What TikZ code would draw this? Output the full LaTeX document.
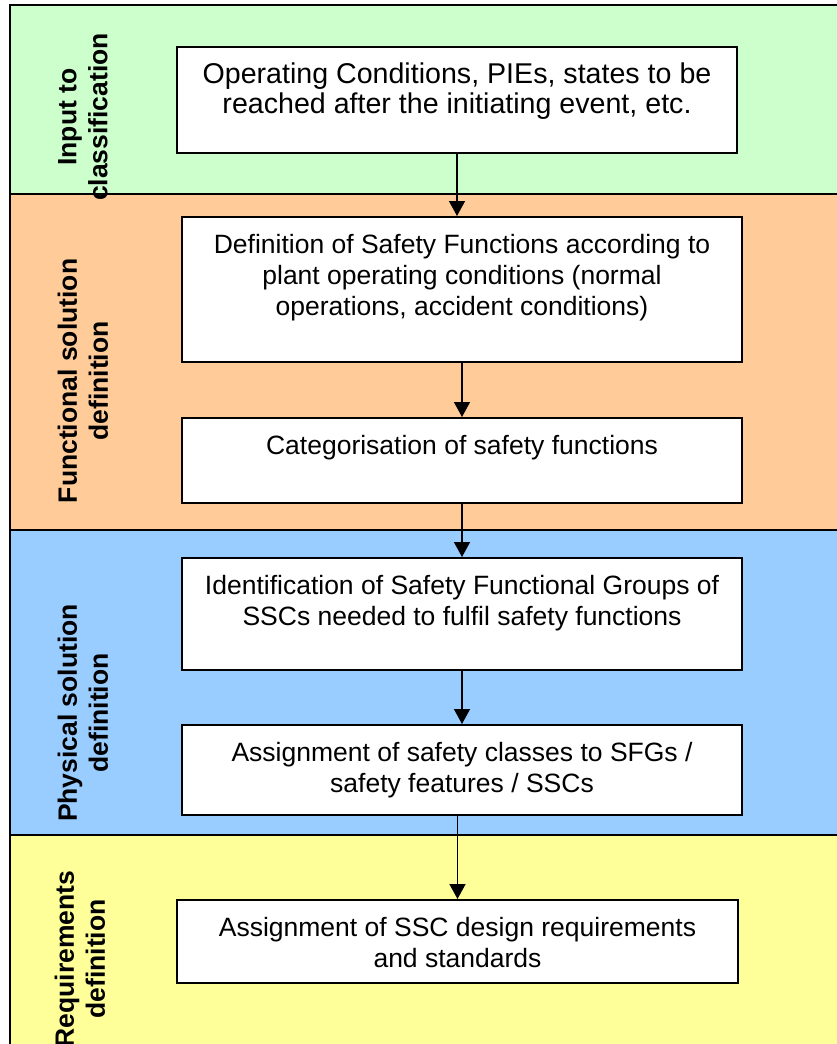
\documentclass[tikz,border=0pt]{standalone}
\usepackage{fontspec}
\setmainfont{Liberation Sans}
\usetikzlibrary{arrows.meta, positioning}
\definecolor{cgreen}{HTML}{CCFFCC}
\definecolor{corange}{HTML}{FFCC99}
\definecolor{cblue}{HTML}{99CCFF}
\definecolor{cyellow}{HTML}{FFFF99}
\tikzset{
  every picture/.style={x=1pt, y=-1pt},
  band/.style={draw=black, fill=#1, line width=2pt},
  lane/.style={rotate=90, align=center, inner sep=0pt, font=\fontsize{26.5}{31}\selectfont\bfseries},
  box/.style={draw=black, fill=white, line width=2pt, minimum width=#1, inner sep=0pt},
  box/.default=560pt,
  boxtext/.style={anchor=north, align=center, inner sep=0pt, yshift=-18pt, font=\fontsize{26.5}{31}\selectfont},
  arrow/.style={-{Triangle[length=15pt, width=16pt]}, line width=1.5pt},
}
\begin{document}
\begin{tikzpicture}
  \clip (0,0) rectangle (837,1044);
  % bands
  \fill[white] (0,0) rectangle (837,1044);
  \draw[band=cgreen] (10,5) rectangle (860,194);
  \draw[band=corange] (10,194) rectangle (860,530);
  \draw[band=cblue] (10,530) rectangle (860,835);
  \draw[band=cyellow] (10,835) rectangle (860,1070);
  \node[lane] (l1) at (83,117) {Input to\\classification};
  \node[lane] (l2) at (83,381) {Functional solution\\definition};
  \node[lane] (l3) at (83,713) {Physical solution\\definition};
  \node[lane] (l4) at (80,959) {Requirements\\definition};
  % boxes
  \node[box, minimum height=106pt] (b1) at (457,100) {};
  \node[box, minimum height=145pt] (b2) at (462,289.5) {};
  \node[box, minimum height=85pt] (b3) at (462,460.5) {};
  \node[box, minimum height=112pt] (b4) at (462,614) {};
  \node[box, minimum height=90pt] (b5) at (462,770) {};
  \node[box=561pt, minimum height=83pt] (b6) at (457.5,941.5) {};
  \node[boxtext, yshift=1pt, font=\fontsize{28.6}{30}\selectfont] (t1) at (b1.north) {Operating Conditions, PIEs, states to be\\reached after the initiating event, etc.};
  \node[boxtext] (t2) at (b2.north) {Definition of Safety Functions according to\\plant operating conditions (normal\\operations, accident conditions)};
  \node[boxtext] (t3) at (b3.north) {Categorisation of safety functions};
  \node[boxtext] (t4) at (b4.north) {Identification of Safety Functional Groups of\\SSCs needed to fulfil safety functions};
  \node[boxtext] (t5) at (b5.north) {Assignment of safety classes to SFGs /\\safety features / SSCs};
  \node[boxtext] (t6) at (b6.north) {Assignment of SSC design requirements\\and standards};
  % arrows
  \draw[arrow] (b1.south) -- (b1.south |- b2.north);
  \draw[arrow] (b2) -- (b3);
  \draw[arrow] (b3) -- (b4);
  \draw[arrow] (b4) -- (b5);
  \draw[arrow] (b5.south -| b6.north) -- (b6.north);
\end{tikzpicture}
\end{document}
